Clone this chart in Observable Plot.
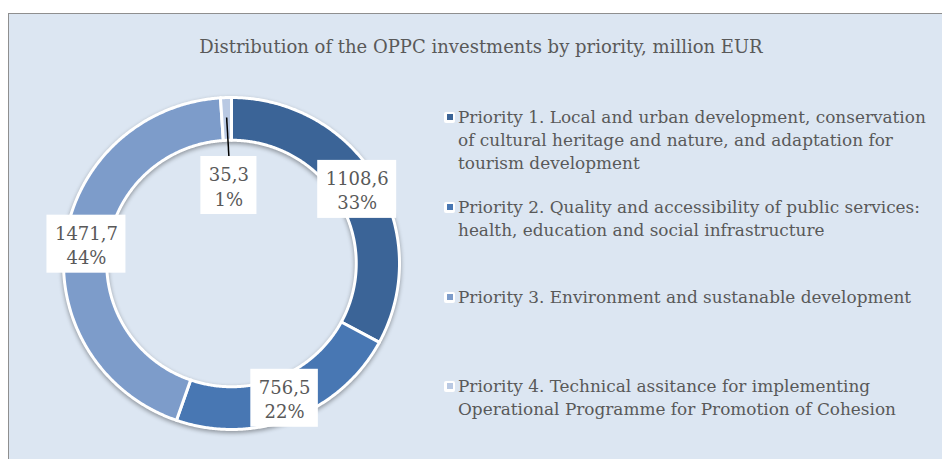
<!DOCTYPE html>
<html>
<head>
<meta charset="utf-8">
<script src="https://cdn.jsdelivr.net/npm/d3@7"></script>
<script src="https://cdn.jsdelivr.net/npm/@observablehq/plot@0.6"></script>
<style>
  body { margin: 0; background: #ffffff; }
  #wrap { position: relative; width: 942px; height: 459px; overflow: hidden; font-family: "DejaVu Serif", serif; color: #595959; }
  #frame { position: absolute; left: 8px; top: 13px; width: 950px; height: 470px; background: #dce6f2; border: 1.5px solid #8f8f8f; box-sizing: border-box; }
  #title { position: absolute; left: 8px; width: 946px; top: 36px; text-align: center; font-size: 18px; line-height: 22px; white-space: nowrap; }
  #chart { position: absolute; left: 0; top: 0; }
  #chart svg g[aria-label="line"] { filter: drop-shadow(0px 2px 2px rgba(0,0,0,0.35)); }
  .leg { position: absolute; left: 444px; width: 490px; }
  .leg .mk { position: absolute; left: 0; top: 6px; width: 11px; height: 11px; background: #fff; border-radius: 2px; }
  .leg .mk i { position: absolute; left: 2.5px; top: 2.5px; width: 6px; height: 6px; display: block; }
  .leg .tx { position: absolute; left: 14px; width: 476px; font-size: 16.9px; line-height: 23px; }
</style>
</head>
<body>
<div id="wrap">
  <div id="frame"></div>
  <div id="title"></div>
  <div id="chart"></div>
  <div id="legend"></div>
</div>
<script>
const title = "Distribution of the OPPC investments by priority, million EUR";
const categories = [
  "Priority 1. Local and urban development, conservation of cultural heritage and nature, and adaptation for tourism development",
  "Priority 2. Quality and accessibility of public services: health, education and social infrastructure",
  "Priority 3. Environment and sustanable development",
  "Priority 4. Technical assitance for implementing Operational Programme for Promotion of Cohesion"
];
const values = [1108.6, 756.5, 1471.7, 35.3];
const colors = ["#3b6497", "#4877b3", "#7d9cca", "#b9c9e3"];

// layout
const cx = 231, cy = 263, rx = 168, ry = 166;
const innerR = 124 / 167;
const legendTops = [117, 207, 297, 386];

document.getElementById("title").textContent = title;

const total = d3.sum(values);
const arcs = d3.pie().sort(null).value(d => d)(values);

// ring polygons built from pie angles
const ring = [];
arcs.forEach((a, i) => {
  const n = Math.max(3, Math.ceil((a.endAngle - a.startAngle) / 0.008));
  for (let k = 0; k <= n; k++) {
    const t = a.startAngle + (a.endAngle - a.startAngle) * k / n;
    ring.push({cat: categories[i], x: Math.sin(t), y: Math.cos(t)});
  }
  for (let k = n; k >= 0; k--) {
    const t = a.startAngle + (a.endAngle - a.startAngle) * k / n;
    ring.push({cat: categories[i], x: innerR * Math.sin(t), y: innerR * Math.cos(t)});
  }
});

// labels
const ctx = document.createElement("canvas").getContext("2d");
ctx.font = "18px 'DejaVu Serif'";
const labels = arcs.map((a, i) => {
  const share = values[i] / total;
  const m = (a.startAngle + a.endAngle) / 2;
  const small = share < 0.03;
  const lr = small ? 0.47 : (1 + innerR) / 2;
  const v = values[i].toFixed(1).replace(".", ",");
  const p = Math.round(share * 100) + "%";
  const w = Math.max(ctx.measureText(v).width, ctx.measureText(p).width) + 16;
  return {
    x: lr * Math.sin(m), y: lr * Math.cos(m),
    text: v + "\n" + p, hw: w / 2 / rx, hh: 29 / ry,
    small, lx: 0.88 * Math.sin(m), ly: 0.88 * Math.cos(m)
  };
});
const leaders = labels.filter(d => d.small);

const plot = Plot.plot({
  width: 942,
  height: 459,
  margin: 0,
  style: {background: "transparent"},
  x: {domain: [-1, 1], range: [cx - rx, cx + rx], axis: null},
  y: {domain: [-1, 1], range: [cy + ry, cy - ry], axis: null},
  color: {domain: categories, range: colors},
  marks: [
    Plot.line(ring, {x: "x", y: "y", z: "cat", fill: "cat", stroke: "#ffffff", strokeWidth: 3, curve: "linear-closed"}),
    Plot.link(leaders, {x1: "lx", y1: "ly", x2: "x", y2: d => d.y + d.hh, stroke: "#000000", strokeWidth: 1.5}),
    Plot.rect(labels, {x1: d => d.x - d.hw, x2: d => d.x + d.hw, y1: d => d.y - d.hh, y2: d => d.y + d.hh, fill: "#ffffff"}),
    Plot.text(labels, {x: "x", y: "y", text: "text", fontSize: 18, lineHeight: 1.36, fill: "#595959", fontFamily: "DejaVu Serif"})
  ]
});
document.getElementById("chart").appendChild(plot);

// legend
const leg = document.getElementById("legend");
categories.forEach((c, i) => {
  const d = document.createElement("div");
  d.className = "leg";
  d.style.top = (legendTops[i] - 11.5) + "px";
  d.innerHTML = `<span class="mk"><i style="background:${colors[i]}"></i></span><div class="tx"></div>`;
  d.querySelector(".tx").textContent = c;
  leg.appendChild(d);
});
</script>
</body>
</html>
